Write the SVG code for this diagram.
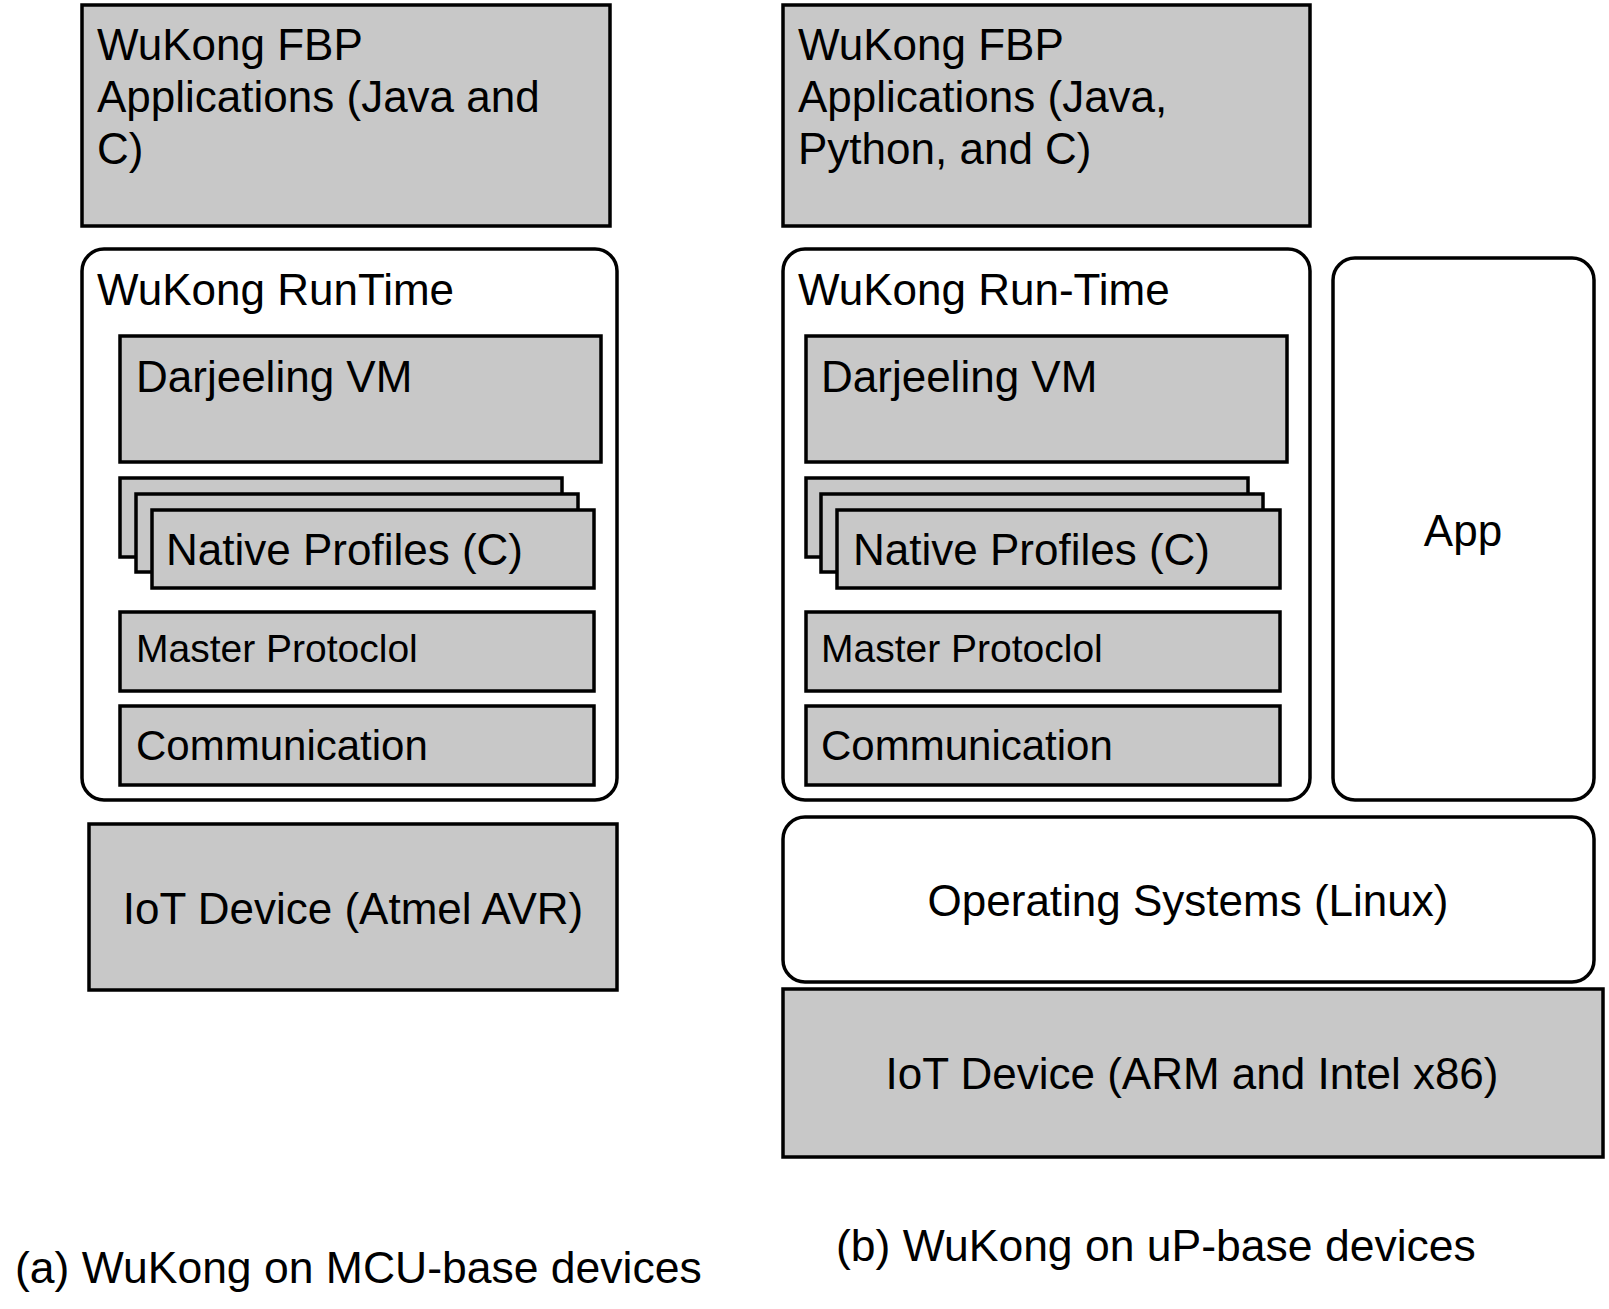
<svg xmlns="http://www.w3.org/2000/svg" width="1609" height="1309" viewBox="0 0 1609 1309">
<style>
.g{fill:#c8c8c8;stroke:#000;stroke-width:3.5}
.w{fill:#fff;stroke:#000;stroke-width:3.5}
text{font-family:"Liberation Sans",Arial,Helvetica,sans-serif;fill:#000}
.t{font-size:44px}
.s{font-size:39px}
.c{font-size:42px}
.cap{font-size:44.5px}
.m{text-anchor:middle}
</style>
<rect width="1609" height="1309" fill="#fff"/>
<g id="a-apps">
<rect class="g" x="82" y="5" width="528" height="221"/>
<text class="t" x="97" y="60">WuKong FBP</text>
<text class="t" x="97" y="112">Applications (Java and</text>
<text class="t" x="97" y="164">C)</text>
</g>
<g id="a-runtime">
<rect class="w" x="82" y="249" width="535" height="551" rx="22"/>
<text class="t" x="97" y="305">WuKong RunTime</text>
</g>
<g id="a-vm">
<rect class="g" x="120" y="336" width="481" height="126"/>
<text class="t" x="136" y="392">Darjeeling VM</text>
</g>
<g id="a-native">
<rect class="g" x="120" y="478" width="442" height="79"/>
<rect class="g" x="136" y="494" width="442" height="78"/>
<rect class="g" x="152" y="510" width="442" height="78"/>
<text class="t" x="166" y="565">Native Profiles (C)</text>
</g>
<g id="a-master">
<rect class="g" x="120" y="612" width="474" height="79"/>
<text class="s" x="136" y="662">Master Protoclol</text>
</g>
<g id="a-comm">
<rect class="g" x="120" y="706" width="474" height="79"/>
<text class="c" x="136" y="760">Communication</text>
</g>
<g id="a-device">
<rect class="g" x="89" y="824" width="528" height="166"/>
<text class="t m" x="353" y="924">IoT Device (Atmel AVR)</text>
</g>
<g id="b-apps">
<rect class="g" x="783" y="5" width="527" height="221"/>
<text class="t" x="798" y="60">WuKong FBP</text>
<text class="t" x="798" y="112">Applications (Java,</text>
<text class="t" x="798" y="164">Python, and C)</text>
</g>
<g id="b-runtime">
<rect class="w" x="783" y="249" width="527" height="551" rx="22"/>
<text class="t" x="798" y="305">WuKong Run-Time</text>
</g>
<g id="b-vm">
<rect class="g" x="806" y="336" width="481" height="126"/>
<text class="t" x="821" y="392">Darjeeling VM</text>
</g>
<g id="b-native">
<rect class="g" x="806" y="478" width="442" height="79"/>
<rect class="g" x="821" y="494" width="442" height="78"/>
<rect class="g" x="837" y="510" width="443" height="78"/>
<text class="t" x="853" y="565">Native Profiles (C)</text>
</g>
<g id="b-master">
<rect class="g" x="806" y="612" width="474" height="79"/>
<text class="s" x="821" y="662">Master Protoclol</text>
</g>
<g id="b-comm">
<rect class="g" x="806" y="706" width="474" height="79"/>
<text class="c" x="821" y="760">Communication</text>
</g>
<g id="b-app">
<rect class="w" x="1333" y="258" width="261" height="542" rx="22"/>
<text class="t m" x="1463" y="546">App</text>
</g>
<g id="b-os">
<rect class="w" x="783" y="817" width="811" height="165" rx="22"/>
<text class="t m" x="1188" y="916">Operating Systems (Linux)</text>
</g>
<g id="b-device">
<rect class="g" x="783" y="989" width="820" height="168"/>
<text class="t m" x="1192" y="1089">IoT Device (ARM and Intel x86)</text>
</g>
<g id="connectors"></g>
<g id="captions">
<text class="cap" x="15" y="1283">(a) WuKong on MCU-base devices</text>
<text class="cap" x="836" y="1261">(b) WuKong on uP-base devices</text>
</g>
</svg>
